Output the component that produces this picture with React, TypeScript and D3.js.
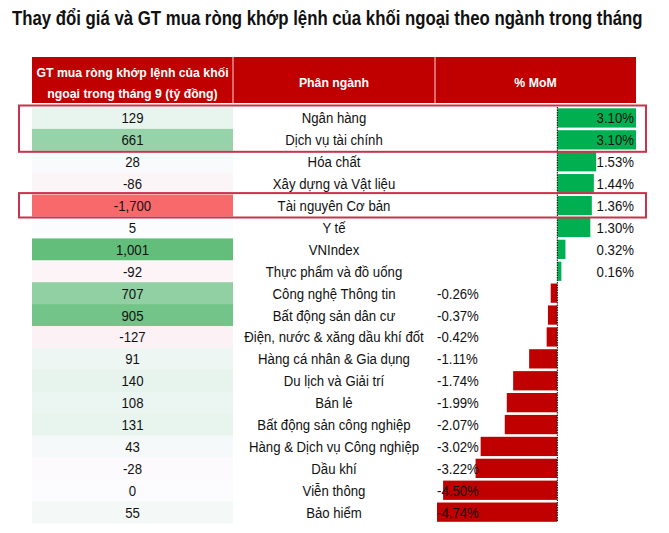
import { useEffect, useRef, useState } from 'react';
import * as d3 from 'd3';

const sectors = [
  'Ngân hàng',
  'Dịch vụ tài chính',
  'Hóa chất',
  'Xây dựng và Vật liệu',
  'Tài nguyên Cơ bản',
  'Y tế',
  'VNIndex',
  'Thực phẩm và đồ uống',
  'Công nghệ Thông tin',
  'Bất động sản dân cư',
  'Điện, nước & xăng dầu khí đốt',
  'Hàng cá nhân & Gia dụng',
  'Du lịch và Giải trí',
  'Bán lẻ',
  'Bất động sản công nghiệp',
  'Hàng & Dịch vụ Công nghiệp',
  'Dầu khí',
  'Viễn thông',
  'Bảo hiểm',
];
const netBuy = [129, 661, 28, -86, -1700, 5, 1001, -92, 707, 905, -127, 91, 140, 108, 131, 43, -28, 0, 55];
const mom = [3.1, 3.1, 1.53, 1.44, 1.36, 1.3, 0.32, 0.16, -0.26, -0.37, -0.42, -1.11, -1.74, -1.99, -2.07, -3.02, -3.22, -4.5, -4.74];
const highlightGroups = [
  ['Ngân hàng', 'Dịch vụ tài chính'],
  ['Tài nguyên Cơ bản'],
];
const headers = ['GT mua ròng khớp lệnh của khối', 'ngoại trong tháng 9 (tỷ đồng)', 'Phân ngành', '% MoM'];
const title = 'Thay đổi giá và GT mua ròng khớp lệnh của khối ngoại theo ngành trong tháng';

const FONT = "'Liberation Sans Narrow', 'Arial Narrow', 'Liberation Sans', sans-serif";
const W = 669;
const H = 533;
const col1 = [32, 233];
const col2 = [233, 435];
const col3 = [435, 636];
const rowTop = 107;
const rowH = 21.9;
const titleWidth = 630;
const narrow = 0.91;

// text squeezed horizontally, standing in for the narrow font of the original
function Narrow({ x, y, anchor = 'middle', children }: { x: number; y: number; anchor?: string; children: string }) {
  return (
    <text transform={`translate(${x},${y}) scale(${narrow},1)`} textAnchor={anchor}>
      {children}
    </text>
  );
}

export default function App() {
  const titleRef = useRef<SVGTextElement | null>(null);
  const [titleScale, setTitleScale] = useState(0.84);

  useEffect(() => {
    if (!titleRef.current) return;
    const len = titleRef.current.getComputedTextLength();
    if (len > 0) setTitleScale(titleWidth / len);
  }, []);

  const y = d3
    .scaleBand<string>()
    .domain(sectors)
    .range([rowTop, rowTop + rowH * sectors.length]);
  const yBar = y.copy().paddingInner(0.12).paddingOuter(0.06);

  const x = d3
    .scaleLinear()
    .domain([d3.min(mom) ?? 0, d3.max(mom) ?? 0])
    .range([437, 636]);

  const minBuy = d3.min(netBuy) ?? -1;
  const maxBuy = d3.max(netBuy) ?? 1;
  const heat = (v: number) =>
    v < 0
      ? d3.interpolateRgb('#FCFCFF', '#F8696B')(v / minBuy)
      : d3.interpolateRgb('#FCFCFF', '#63BE7B')(v / maxBuy);

  const fmt = d3.formatLocale({ decimal: '.', thousands: ',', grouping: [3], currency: ['', ''], minus: '-' }).format(',');
  const pct = (v: number) => `${v.toFixed(2)}%`;

  return (
    <svg width={W} height={H} style={{ display: 'block', margin: '-8px', fontFamily: FONT }}>
      <rect width={W} height={H} fill="#fff" />
      <g transform={`translate(12,25) scale(${titleScale},1)`}>
        <text ref={titleRef} x={0} y={0} fontSize={21} fontWeight={700} fill="#111">
          {title}
        </text>
      </g>

      {/* header */}
      <rect x={col1[0]} y={57} width={col3[1] - col1[0]} height={46} fill="#C00000" />
      <line x1={col2[0]} x2={col2[0]} y1={57} y2={103} stroke="#f3d6d6" strokeWidth={1} />
      <line x1={col3[0]} x2={col3[0]} y1={57} y2={103} stroke="#f3d6d6" strokeWidth={1} />
      <g fill="#fff" fontSize={13.5} fontWeight={700}>
        <Narrow x={(col1[0] + col1[1]) / 2} y={77}>{headers[0]}</Narrow>
        <Narrow x={(col1[0] + col1[1]) / 2} y={98}>{headers[1]}</Narrow>
        <Narrow x={(col2[0] + col2[1]) / 2} y={87}>{headers[2]}</Narrow>
        <Narrow x={(col3[0] + col3[1]) / 2} y={87}>{headers[3]}</Narrow>
      </g>

      {/* rows */}
      {sectors.map((s, i) => {
        const top = y(s) ?? 0;
        const cy = top + y.bandwidth() / 2;
        const v = mom[i];
        return (
          <g key={s} fontSize={14.5} fill="#111">
            <rect x={col1[0]} y={top} width={col1[1] - col1[0]} height={y.bandwidth() + 0.5} fill={heat(netBuy[i])} />
            <Narrow x={(col1[0] + col1[1]) / 2} y={cy + 5.5}>{fmt(netBuy[i])}</Narrow>
            <Narrow x={(col2[0] + col2[1]) / 2} y={cy + 5.5}>{s}</Narrow>
            <rect
              x={Math.min(x(0), x(v))}
              y={yBar(s)}
              width={Math.abs(x(v) - x(0))}
              height={yBar.bandwidth()}
              fill={v >= 0 ? '#00B050' : '#C00000'}
            />
            <Narrow x={v >= 0 ? 634 : 437} y={cy + 5.5} anchor={v >= 0 ? 'end' : 'start'}>{pct(v)}</Narrow>
          </g>
        );
      })}

      <line
        x1={x(0)}
        x2={x(0)}
        y1={rowTop}
        y2={rowTop + rowH * sectors.length - 2}
        stroke="#000"
        strokeWidth={1}
        strokeDasharray="1.5,1"
      />

      {/* highlight boxes */}
      {highlightGroups.map((grp) => {
        const top = y(grp[0]) ?? 0;
        const bottom = (y(grp[grp.length - 1]) ?? 0) + y.bandwidth();
        return (
          <rect
            key={grp[0]}
            x={19}
            y={top - 1.5}
            width={627}
            height={bottom - top + 2.5}
            fill="none"
            stroke="#C8334D"
            strokeWidth={2}
          />
        );
      })}
    </svg>
  );
}
